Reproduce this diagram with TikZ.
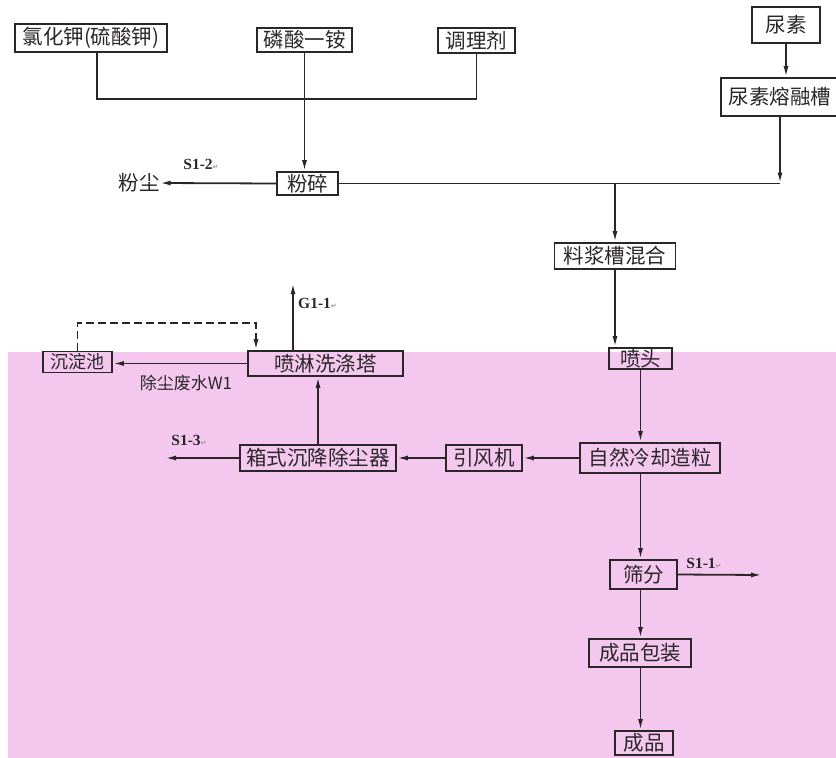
\documentclass[tikz,border=0pt]{standalone}
\usepackage{fontspec}
\usepackage{xcolor}
\usetikzlibrary{arrows.meta,calc}
\setmainfont{Noto Sans CJK SC}
\newfontfamily\latinfont{Liberation Serif}
\newfontfamily\symfont{DejaVu Sans}
\definecolor{Ink}{HTML}{2A2628}
\definecolor{Blush}{HTML}{F4C8EE}
\definecolor{Mark}{HTML}{9A8F96}
\newcommand{\retmark}{{\symfont\fontsize{7}{8}\selectfont\textcolor{Mark}{↵}}}
\tikzset{
 box/.style={draw=Ink, line width=1.8pt, inner sep=0pt, align=center, text=Ink, font=\fontsize{20.5}{22}\selectfont},
 flow/.style={-{Latex[length=11pt,width=5pt]}, line width=1.8pt, draw=Ink},
 pipe/.style={line width=1.8pt, draw=Ink},
 recycle/.style={flow, dash pattern=on 8pt off 4pt},
 tag/.style={font=\latinfont\bfseries\fontsize{15.5}{17}\selectfont, text=Ink, inner sep=0pt},
 plain/.style={font=\fontsize{20.5}{22}\selectfont, text=Ink, inner sep=0pt}
}

\begin{document}
\begin{tikzpicture}[x=1pt,y=-1pt]
\useasboundingbox (0,0) rectangle (836,758);
\fill[Blush] (8,352) rectangle (836,758);

\node[box,minimum width=152,minimum height=28] (kcl) at (91,38) {氯化钾(硫酸钾)};
\node[box,minimum width=95,minimum height=24] (nh4) at (304.5,40) {磷酸一铵};
\node[box,minimum width=77,minimum height=25] (tiao) at (476.5,40.5) {调理剂};
\node[box,minimum width=68,minimum height=36] (niao) at (786,25) {尿素};
\node[box,minimum width=118,minimum height=38] (rong) at (780,97) {尿素熔融槽};
\node[box,minimum width=61,minimum height=23] (fensui) at (307.5,183.5) {粉碎};
\node[plain] (fenchen) at (139,183) {粉尘};
\node[tag] (s12) at (201,164) {S1-2\retmark};
\node[box,minimum width=121,minimum height=26] (liao) at (615,256) {料浆槽混合};
\node[box,minimum width=63,minimum height=21] (pentou) at (640.5,358.5) {喷头};
\node[box,minimum width=140,minimum height=30] (zr) at (650,458) {自然冷却造粒};
\node[box,minimum width=76,minimum height=26] (yfj) at (484,458) {引风机};
\node[box,minimum width=156,minimum height=26] (xs) at (318,458) {箱式沉降除尘器};
\node[box,minimum width=155,minimum height=25] (penlin) at (325.5,363.5) {喷淋洗涤塔};
\node[box,minimum width=69,minimum height=21,font=\fontsize{18}{20}\selectfont] (cdc) at (77.5,362) {沉淀池};
\node[plain,font=\fontsize{17}{19}\selectfont] (w1) at (186,383) {除尘废水W1};
\node[tag,anchor=west] (g11) at (298,303) {G1-1\retmark};
\node[tag] (s13) at (189,440) {S1-3\retmark};
\node[box,minimum width=67,minimum height=29] (sf) at (643.5,574.5) {筛分};
\node[tag] (s11) at (704,563) {S1-1\retmark};
\node[box,minimum width=102,minimum height=28] (bz) at (640,653) {成品包装};
\node[box,minimum width=58,minimum height=24] (cp) at (644,743) {成品};

\coordinate (mix) at (304.5,99);
\coordinate (gas) at (293,283);
\coordinate (ret) at (256,323);
\coordinate (s13end) at (165,458);
\coordinate (s11end) at (762,575);

\draw[pipe] ([xshift=6]kcl.south) |- (mix) -| (tiao.south);
\draw[flow] (nh4.south) -- (nh4.south |- fensui.north);
\draw[flow] (fensui.west) -- (fenchen.east);
\draw[flow] (niao.south) -- (niao.south |- rong.north);
\draw[pipe] (fensui.east) -- (rong.south |- fensui.east);
\draw[flow] (rong.south) -- (rong.south |- fensui.east);
\draw[flow] (liao.north |- fensui.east) -- (liao.north);
\draw[flow] (liao.south) -- (liao.south |- pentou.north);
\draw[flow] (pentou.south) -- (pentou.south |- zr.north);
\draw[flow] (zr.west) -- (yfj.east);
\draw[flow] (yfj.west) -- (xs.east);
\draw[flow] (xs.west) -- (s13end);
\draw[flow] (xs.north) -- (xs.north |- penlin.south);
\draw[flow] (gas |- penlin.north) -- (gas);
\draw[flow] (penlin.west) -- (penlin.west -| cdc.east);
\draw[recycle] (cdc.north) |- (ret) -- (ret |- penlin.north);
\draw[flow] (zr.south -| pentou) -- (sf.north -| pentou);
\draw[flow] (sf.east) -- (s11end);
\draw[flow] (sf.south -| pentou) -- (bz.north -| pentou);
\draw[flow] (bz.south -| pentou) -- (cp.north -| pentou);
\end{tikzpicture}
\end{document}
